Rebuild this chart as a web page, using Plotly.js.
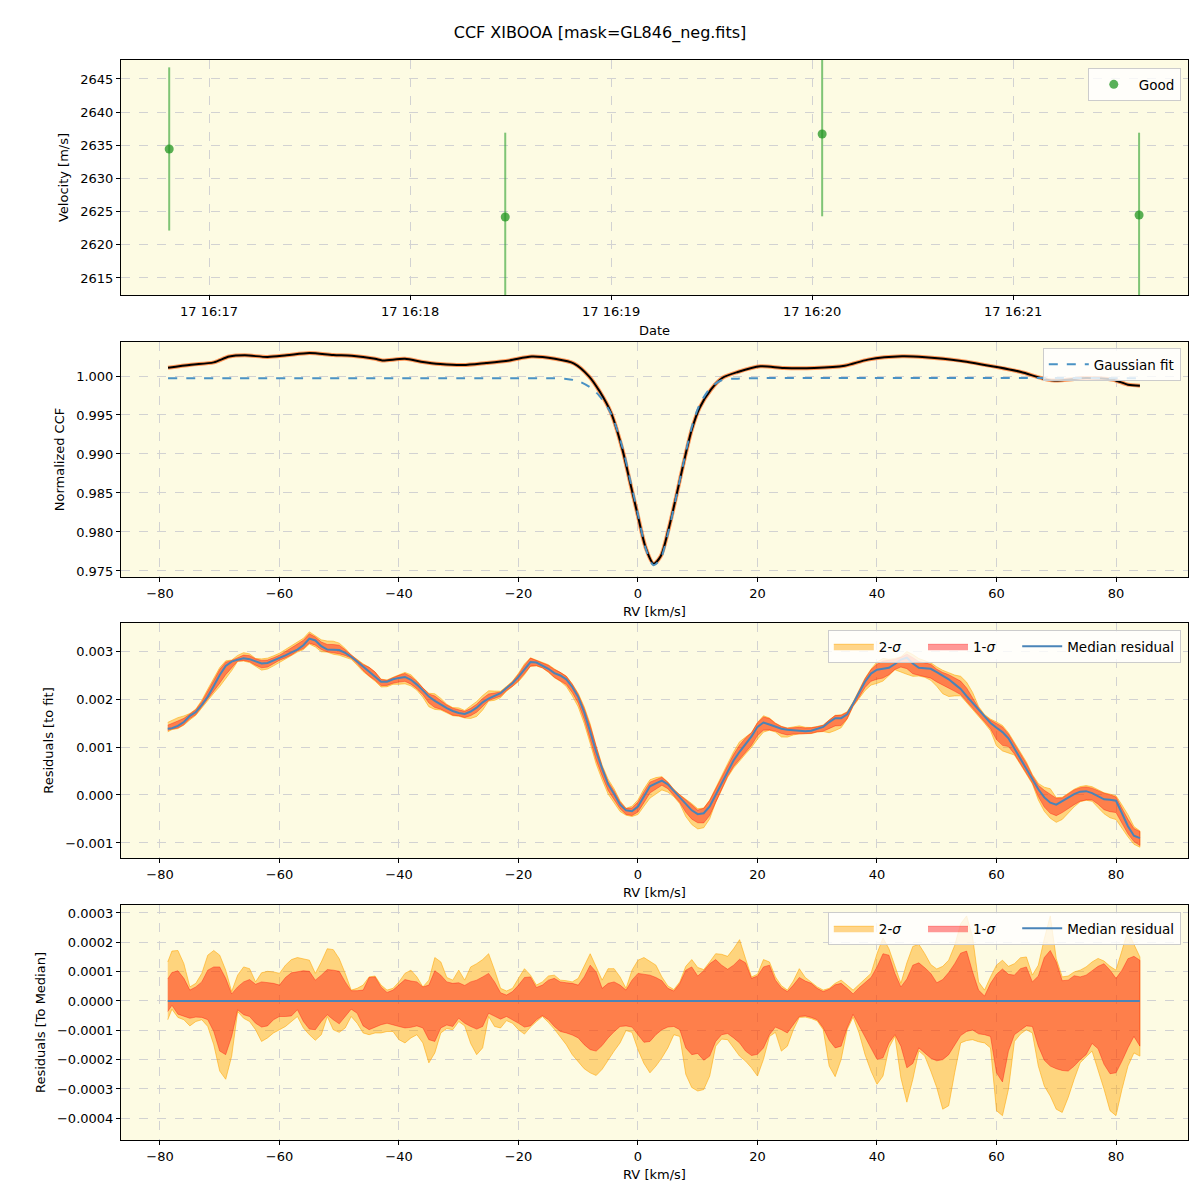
<!DOCTYPE html>
<html>
<head>
<meta charset="utf-8">
<script src="https://cdn.plot.ly/plotly-3.0.1.min.js"></script>
<style>
  body { margin: 0; background: #ffffff; }
  #myDiv { width: 1200px; height: 1200px; }
</style>
</head>
<body>
<div id="myDiv"></div>
<script>
// ---- panel 1 : velocity time series ----
var obsTimes = ['2024-06-17 16:16:48.1', '2024-06-17 16:18:28.4', '2024-06-17 16:20:03.0', '2024-06-17 16:21:37.6'];
var velocity = [2634.45, 2624.2, 2636.7, 2624.5];
var velocityErr = [12.3, 12.7, 12.4, 12.4];

// ---- panel 2 : normalised CCF and gaussian fit ----
var ccfRV = [-78.65, -74.8, -71, -68.4, -65.8, -62, -58.8, -55, -51, -47.9, -44, -42.8, -39, -36.3, -33.1, -29.3, -25.4, -21.5, -17.8, -13.9, -10.7, -8.2, -6.4, -4.5, -2.6, -1.3, 0, 1.3, 2.6, 3.8, 5.1, 6.4, 7.7, 9.0, 10.3, 12.2, 14.1, 16.7, 20.5, 24.4, 29.5, 34.6, 38.5, 44.2, 48.1, 53.8, 60.3, 64.1, 69.2, 75, 79.5, 82, 84];
var ccf = [1.00107, 1.00145, 1.00175, 1.0025, 1.00265, 1.00244, 1.00265, 1.00295, 1.0027, 1.0026, 1.0022, 1.002, 1.0022, 1.00184, 1.00154, 1.0014, 1.00167, 1.002, 1.0025, 1.0022, 1.0016, 0.99996, 0.9980, 0.99526, 0.99056, 0.98628, 0.98201, 0.97795, 0.97594, 0.97688, 0.9803, 0.98457, 0.98906, 0.99312, 0.9959, 0.99825, 0.99974, 1.00051, 1.00124, 1.00103, 1.00103, 1.00132, 1.0021, 1.00252, 1.0024, 1.00197, 1.00111, 1.00051, 0.99944, 0.99974, 0.99953, 0.99889, 0.99876];
var fitRV = [-78.65, -20, -14, -12, -10, -8, -6.4, -4.5, -2.6, -1.3, 0, 1.3, 2.6, 3.8, 5.1, 6.4, 7.7, 9, 10.3, 12.2, 14.1, 16.7, 20, 84];
var gaussFit = [0.99972, 0.99972, 0.9997, 0.99962, 0.99935, 0.99855, 0.9974, 0.99515, 0.99083, 0.98664, 0.98225, 0.97787, 0.97574, 0.9766, 0.98008, 0.98453, 0.98916, 0.99344, 0.99631, 0.99855, 0.99949, 0.99966, 0.99972, 0.99972];

// ---- panels 3 and 4 : residuals on a common RV grid ----
var rv = [-78.7,-78,-77,-76,-75,-74,-73,-72,-71,-70,
  -69,-68,-67,-66,-65,-64,-63,-62,-61,-60,
  -59,-58,-57,-56,-55,-54,-53,-52,-51,-50,
  -49,-48,-47,-46,-45,-44,-43,-42,-41,-40,
  -39,-38,-37,-36,-35,-34,-33,-32,-31,-30,
  -29,-28,-27,-26,-25,-24,-23,-22,-21,-20,
  -19,-18,-17,-16,-15,-14,-13,-12,-11,-10,
  -9,-8,-7,-6,-5,-4,-3,-2,-1,0,
  1,2,3,4,5,6,7,8,9,10,
  11,12,13,14,15,16,17,18,19,20,
  21,22,23,24,25,26,27,28,29,30,
  31,32,33,34,35,36,37,38,39,40,
  41,42,43,44,45,46,47,48,49,50,
  51,52,53,54,55,56,57,58,59,60,
  61,62,63,64,65,66,67,68,69,70,
  71,72,73,74,75,76,77,78,79,80,
  81,82,83,84];

// median residual to the gaussian fit
var medianResid = [0.00138,0.00139,0.00144,0.00152,0.00165,0.00173,0.00188,0.00205,0.00227,0.00250,
  0.00269,0.00278,0.00282,0.00285,0.00283,0.00278,0.00274,0.00275,0.00280,0.00286,
  0.00291,0.00297,0.00303,0.00312,0.00326,0.00322,0.00310,0.00303,0.00303,0.00302,
  0.00296,0.00288,0.00278,0.00268,0.00258,0.00248,0.00236,0.00236,0.00241,0.00244,
  0.00246,0.00240,0.00230,0.00218,0.00205,0.00196,0.00188,0.00181,0.00175,0.00171,
  0.00169,0.00174,0.00182,0.00193,0.00201,0.00206,0.00212,0.00223,0.00233,0.00246,
  0.00262,0.00277,0.00276,0.00270,0.00263,0.00254,0.00249,0.00241,0.00225,0.00204,
  0.00172,0.00132,0.00090,0.00055,0.00022,0.00002,-0.00020,-0.00032,-0.00034,-0.00024,
  -0.00002,0.00018,0.00024,0.00030,0.00022,0.00008,-0.00006,-0.00020,-0.00032,-0.00040,
  -0.00038,-0.00024,0.00000,0.00024,0.00050,0.00072,0.00090,0.00106,0.00122,0.00142,
  0.00151,0.00147,0.00142,0.00138,0.00136,0.00135,0.00133,0.00133,0.00134,0.00138,
  0.00142,0.00152,0.00160,0.00160,0.00168,0.00190,0.00212,0.00236,0.00253,0.00261,
  0.00263,0.00265,0.00273,0.00282,0.00286,0.00274,0.00265,0.00264,0.00263,0.00256,
  0.00248,0.00241,0.00231,0.00221,0.00206,0.00192,0.00178,0.00164,0.00150,0.00140,
  0.00131,0.00118,0.00097,0.00075,0.00054,0.00034,0.00012,-0.00005,-0.00016,-0.00020,
  -0.00013,-0.00005,0.00002,0.00007,0.00008,0.00004,-0.00003,-0.00009,-0.00010,-0.00012,
  -0.00038,-0.00065,-0.00085,-0.00090];

// band edges relative to the median
var upper2 = [1.33e-4,1.70e-4,1.72e-4,1.27e-4,0.48e-4,0.60e-4,0.94e-4,1.56e-4,1.72e-4,1.56e-4,
  1.05e-4,0.32e-4,0.88e-4,1.16e-4,1.10e-4,0.65e-4,0.96e-4,1.01e-4,0.99e-4,0.94e-4,
  1.22e-4,1.41e-4,1.48e-4,1.44e-4,1.39e-4,0.94e-4,1.33e-4,1.78e-4,1.75e-4,1.44e-4,
  0.94e-4,0.37e-4,0.43e-4,0.54e-4,0.82e-4,0.85e-4,0.54e-4,0.37e-4,0.43e-4,0.65e-4,
  0.94e-4,1.05e-4,0.82e-4,0.48e-4,0.71e-4,1.48e-4,1.33e-4,0.80e-4,0.71e-4,1.05e-4,
  0.71e-4,1.16e-4,1.27e-4,1.41e-4,1.61e-4,1.05e-4,0.43e-4,0.34e-4,0.43e-4,0.77e-4,
  1.10e-4,0.88e-4,0.54e-4,0.65e-4,0.85e-4,0.88e-4,0.71e-4,0.69e-4,0.65e-4,0.77e-4,
  1.18e-4,1.61e-4,1.16e-4,0.71e-4,1.10e-4,1.10e-4,0.82e-4,0.43e-4,1.05e-4,1.39e-4,
  1.48e-4,1.36e-4,1.22e-4,0.82e-4,0.51e-4,0.39e-4,0.65e-4,1.18e-4,1.41e-4,1.14e-4,
  1.07e-4,1.33e-4,1.61e-4,1.59e-4,1.52e-4,1.78e-4,2.09e-4,1.44e-4,0.82e-4,0.91e-4,
  1.41e-4,1.33e-4,0.82e-4,0.52e-4,0.37e-4,0.68e-4,1.10e-4,0.80e-4,0.65e-4,0.48e-4,
  0.37e-4,0.43e-4,0.60e-4,0.71e-4,0.54e-4,0.37e-4,0.56e-4,0.74e-4,0.94e-4,1.61e-4,
  2.15e-4,1.78e-4,1.16e-4,0.60e-4,1.30e-4,1.86e-4,1.93e-4,1.61e-4,1.24e-4,1.09e-4,
  1.18e-4,1.39e-4,1.89e-4,2.63e-4,2.90e-4,2.18e-4,0.65e-4,0.37e-4,0.82e-4,1.22e-4,
  1.39e-4,1.18e-4,1.27e-4,1.47e-4,1.50e-4,0.88e-4,1.22e-4,2.12e-4,2.90e-4,1.44e-4,
  0.82e-4,0.85e-4,0.99e-4,1.05e-4,1.16e-4,1.33e-4,1.45e-4,1.36e-4,1.18e-4,1.05e-4,
  1.72e-4,2.40e-4,1.93e-4,1.50e-4];

var upper1 = [0.75e-4,0.97e-4,1.03e-4,0.77e-4,0.37e-4,0.48e-4,0.65e-4,1.05e-4,1.16e-4,1.16e-4,
  0.77e-4,0.24e-4,0.48e-4,0.65e-4,0.73e-4,0.57e-4,0.65e-4,0.62e-4,0.60e-4,0.54e-4,
  0.80e-4,0.96e-4,0.99e-4,1.03e-4,1.01e-4,0.71e-4,0.88e-4,1.07e-4,1.05e-4,1.01e-4,
  0.65e-4,0.35e-4,0.35e-4,0.37e-4,0.80e-4,0.82e-4,0.48e-4,0.29e-4,0.37e-4,0.54e-4,
  0.73e-4,0.68e-4,0.65e-4,0.48e-4,0.54e-4,1.03e-4,0.88e-4,0.65e-4,0.60e-4,0.62e-4,
  0.53e-4,0.65e-4,0.71e-4,0.82e-4,0.94e-4,0.65e-4,0.28e-4,0.20e-4,0.32e-4,0.54e-4,
  0.80e-4,0.82e-4,0.46e-4,0.54e-4,0.71e-4,0.77e-4,0.65e-4,0.62e-4,0.60e-4,0.54e-4,
  0.82e-4,1.22e-4,0.99e-4,0.43e-4,0.60e-4,0.65e-4,0.54e-4,0.37e-4,0.71e-4,0.94e-4,
  0.90e-4,0.88e-4,0.80e-4,0.69e-4,0.43e-4,0.34e-4,0.60e-4,1.05e-4,1.16e-4,0.85e-4,
  1.03e-4,1.27e-4,1.41e-4,1.22e-4,1.08e-4,1.22e-4,1.42e-4,1.30e-4,0.77e-4,0.85e-4,
  1.16e-4,1.22e-4,0.71e-4,0.45e-4,0.32e-4,0.54e-4,0.80e-4,0.68e-4,0.60e-4,0.43e-4,
  0.32e-4,0.40e-4,0.55e-4,0.60e-4,0.43e-4,0.24e-4,0.45e-4,0.62e-4,0.80e-4,1.16e-4,
  1.61e-4,1.56e-4,0.94e-4,0.48e-4,0.75e-4,1.22e-4,1.30e-4,1.13e-4,0.94e-4,0.62e-4,
  0.73e-4,0.97e-4,1.27e-4,1.63e-4,1.70e-4,0.99e-4,0.37e-4,0.17e-4,0.60e-4,0.91e-4,
  1.09e-4,0.91e-4,0.88e-4,1.10e-4,1.16e-4,0.65e-4,0.85e-4,1.48e-4,1.72e-4,1.33e-4,
  0.69e-4,0.71e-4,0.86e-4,0.82e-4,0.88e-4,1.03e-4,1.18e-4,1.27e-4,1.05e-4,0.77e-4,
  1.05e-4,1.44e-4,1.52e-4,1.39e-4];

var lower1 = [-0.36e-4,-0.15e-4,-0.45e-4,-0.53e-4,-0.59e-4,-0.55e-4,-0.56e-4,-0.64e-4,-1.04e-4,-1.71e-4,
  -1.83e-4,-1.21e-4,-0.30e-4,-0.47e-4,-0.53e-4,-0.76e-4,-0.89e-4,-0.85e-4,-0.64e-4,-0.53e-4,
  -0.53e-4,-0.51e-4,-0.30e-4,-0.70e-4,-0.96e-4,-0.98e-4,-0.70e-4,-0.47e-4,-0.64e-4,-0.78e-4,
  -0.53e-4,-0.28e-4,-0.42e-4,-0.85e-4,-0.98e-4,-0.89e-4,-0.81e-4,-0.76e-4,-0.81e-4,-0.87e-4,
  -0.92e-4,-0.90e-4,-0.85e-4,-0.92e-4,-1.32e-4,-1.38e-4,-0.92e-4,-0.82e-4,-0.87e-4,-0.59e-4,
  -0.76e-4,-0.87e-4,-0.96e-4,-0.87e-4,-0.42e-4,-0.51e-4,-0.62e-4,-0.53e-4,-0.64e-4,-0.76e-4,
  -0.89e-4,-0.85e-4,-0.64e-4,-0.50e-4,-0.64e-4,-0.87e-4,-1.04e-4,-1.09e-4,-1.16e-4,-1.26e-4,
  -1.49e-4,-1.66e-4,-1.71e-4,-1.52e-4,-1.26e-4,-1.05e-4,-0.87e-4,-0.85e-4,-0.89e-4,-1.15e-4,
  -1.41e-4,-1.38e-4,-1.15e-4,-0.98e-4,-0.89e-4,-0.87e-4,-0.98e-4,-1.60e-4,-1.83e-4,-1.79e-4,
  -2.02e-4,-1.88e-4,-1.38e-4,-1.15e-4,-1.11e-4,-1.26e-4,-1.43e-4,-1.71e-4,-1.86e-4,-1.82e-4,
  -1.60e-4,-1.15e-4,-0.89e-4,-0.98e-4,-1.09e-4,-0.81e-4,-0.53e-4,-0.51e-4,-0.56e-4,-0.64e-4,
  -0.92e-4,-1.34e-4,-1.60e-4,-1.54e-4,-0.92e-4,-0.46e-4,-0.81e-4,-1.21e-4,-1.60e-4,-1.99e-4,
  -1.94e-4,-1.43e-4,-1.15e-4,-1.54e-4,-2.28e-4,-2.13e-4,-1.60e-4,-1.79e-4,-1.95e-4,-2.04e-4,
  -2.00e-4,-1.83e-4,-1.49e-4,-1.18e-4,-1.04e-4,-0.99e-4,-1.12e-4,-1.15e-4,-1.21e-4,-2.45e-4,
  -2.76e-4,-1.71e-4,-1.15e-4,-1.01e-4,-0.85e-4,-0.87e-4,-1.54e-4,-2.02e-4,-2.22e-4,-2.31e-4,
  -2.37e-4,-2.39e-4,-2.22e-4,-2.00e-4,-1.83e-4,-1.45e-4,-1.63e-4,-2.16e-4,-2.48e-4,-2.45e-4,
  -2.05e-4,-1.60e-4,-1.21e-4,-1.54e-4];

var lower2 = [-0.64e-4,-0.28e-4,-0.56e-4,-0.64e-4,-0.85e-4,-0.70e-4,-0.64e-4,-0.87e-4,-1.49e-4,-2.39e-4,
  -2.67e-4,-1.88e-4,-0.36e-4,-0.59e-4,-0.70e-4,-0.98e-4,-1.38e-4,-1.26e-4,-1.09e-4,-0.98e-4,
  -0.87e-4,-0.70e-4,-0.53e-4,-0.92e-4,-1.15e-4,-1.34e-4,-1.15e-4,-0.53e-4,-0.98e-4,-1.07e-4,
  -0.92e-4,-0.53e-4,-0.76e-4,-1.09e-4,-1.15e-4,-1.09e-4,-1.09e-4,-1.04e-4,-1.04e-4,-1.32e-4,
  -1.43e-4,-1.26e-4,-1.15e-4,-1.43e-4,-2.11e-4,-1.77e-4,-1.09e-4,-0.94e-4,-0.98e-4,-0.70e-4,
  -0.85e-4,-1.45e-4,-1.83e-4,-1.60e-4,-0.53e-4,-0.87e-4,-0.92e-4,-0.67e-4,-0.76e-4,-0.98e-4,
  -1.13e-4,-0.89e-4,-0.70e-4,-0.53e-4,-0.73e-4,-0.96e-4,-1.21e-4,-1.49e-4,-1.83e-4,-2.05e-4,
  -2.31e-4,-2.45e-4,-2.54e-4,-2.33e-4,-2.00e-4,-1.71e-4,-1.43e-4,-1.01e-4,-1.07e-4,-1.66e-4,
  -2.13e-4,-2.45e-4,-2.22e-4,-1.94e-4,-1.60e-4,-1.15e-4,-1.21e-4,-2.50e-4,-2.95e-4,-3.07e-4,
  -3.02e-4,-2.56e-4,-1.54e-4,-1.30e-4,-1.32e-4,-1.60e-4,-1.88e-4,-2.05e-4,-2.28e-4,-2.56e-4,
  -1.99e-4,-1.21e-4,-1.07e-4,-1.71e-4,-1.54e-4,-0.98e-4,-0.56e-4,-0.55e-4,-0.60e-4,-0.68e-4,
  -0.98e-4,-2.22e-4,-2.58e-4,-1.99e-4,-0.98e-4,-0.55e-4,-1.09e-4,-1.83e-4,-2.39e-4,-2.84e-4,
  -2.56e-4,-1.60e-4,-1.20e-4,-2.62e-4,-3.45e-4,-2.67e-4,-1.70e-4,-1.88e-4,-2.39e-4,-2.95e-4,
  -3.69e-4,-3.57e-4,-2.45e-4,-1.43e-4,-1.35e-4,-1.32e-4,-1.39e-4,-1.43e-4,-1.60e-4,-3.74e-4,
  -3.91e-4,-3.01e-4,-1.38e-4,-1.13e-4,-0.98e-4,-1.09e-4,-2.22e-4,-2.90e-4,-3.24e-4,-3.69e-4,
  -3.80e-4,-3.29e-4,-2.67e-4,-2.11e-4,-1.90e-4,-1.71e-4,-2.33e-4,-3.01e-4,-3.74e-4,-3.91e-4,
  -3.01e-4,-2.22e-4,-1.77e-4,-1.88e-4];

// ---- styling ----
var FONT = 'DejaVu Sans, Liberation Sans, sans-serif';
var COL_2SIG = 'rgba(255,165,0,0.45)';
var COL_1SIG = 'rgba(255,0,0,0.4)';
var COL_MED = '#4a84b8';
var PAD = '\u00a0\u00a0\u00a0\u00a0';  // extra gap between horizontal legend entries

function shifted(base, off) {
  return base.map(function (b, i) { return b + off[i]; });
}
function bandTrace(base, hi, lo, name, fillcolor, edge, ax, leg) {
  var up = shifted(base, hi);
  var dn = shifted(base, lo).reverse();
  return {
    x: rv.concat(rv.slice().reverse()),
    y: up.concat(dn),
    type: 'scatter', mode: 'lines', fill: 'toself',
    fillcolor: fillcolor,
    line: {color: edge, width: 1},
    name: name, legend: leg,
    xaxis: 'x' + ax, yaxis: 'y' + ax,
    hoverinfo: 'skip'
  };
}

var zeroLine = rv.map(function () { return 0; });

var traces = [
  {
    x: obsTimes, y: velocity, type: 'scatter', mode: 'markers',
    name: 'Good', legend: 'legend',
    marker: {color: 'rgba(34,150,34,0.75)', size: 9},
    error_y: {type: 'data', array: velocityErr, color: 'rgba(44,160,44,0.6)', thickness: 2, width: 0},
    xaxis: 'x', yaxis: 'y'
  },
  {
    x: ccfRV, y: ccf, type: 'scatter', mode: 'lines', showlegend: false,
    line: {color: 'rgba(255,110,30,0.7)', width: 4, shape: 'spline', smoothing: 0.8},
    xaxis: 'x2', yaxis: 'y2'
  },
  {
    x: ccfRV, y: ccf, type: 'scatter', mode: 'lines', showlegend: false,
    line: {color: 'black', width: 2, shape: 'spline', smoothing: 0.8},
    xaxis: 'x2', yaxis: 'y2'
  },
  {
    x: fitRV, y: gaussFit, type: 'scatter', mode: 'lines',
    name: 'Gaussian fit', legend: 'legend2',
    line: {color: '#4a92c4', width: 2, dash: 'dash', shape: 'spline', smoothing: 0.8},
    xaxis: 'x2', yaxis: 'y2'
  },
  bandTrace(medianResid, upper2, lower2, '2-<i>σ</i>' + PAD, COL_2SIG, 'rgba(255,165,0,0.55)', '3', 'legend3'),
  bandTrace(medianResid, upper1, lower1, '1-<i>σ</i>' + PAD, COL_1SIG, 'rgba(255,0,0,0.35)', '3', 'legend3'),
  {
    x: rv, y: medianResid, type: 'scatter', mode: 'lines',
    name: 'Median residual', legend: 'legend3',
    line: {color: COL_MED, width: 2},
    xaxis: 'x3', yaxis: 'y3'
  },
  bandTrace(zeroLine, upper2, lower2, '2-<i>σ</i>' + PAD, COL_2SIG, 'rgba(255,165,0,0.55)', '4', 'legend4'),
  bandTrace(zeroLine, upper1, lower1, '1-<i>σ</i>' + PAD, COL_1SIG, 'rgba(255,0,0,0.35)', '4', 'legend4'),
  {
    x: rv, y: zeroLine, type: 'scatter', mode: 'lines',
    name: 'Median residual', legend: 'legend4',
    line: {color: COL_MED, width: 2},
    xaxis: 'x4', yaxis: 'y4'
  }
];

function axis(extra) {
  var base = {
    showline: true, mirror: true, linecolor: 'black', linewidth: 1,
    ticks: 'outside', ticklen: 4, tickcolor: 'black', tickwidth: 1,
    showgrid: true, gridcolor: '#d2d2d2', griddash: 'dash', gridwidth: 1,
    zeroline: false, automargin: false,
    tickfont: {family: FONT, size: 13, color: 'black'}
  };
  for (var k in extra) base[k] = extra[k];
  return base;
}
function ttl(text, standoff) {
  return {text: text, font: {family: FONT, size: 13, color: 'black'}, standoff: standoff};
}
function legendBox(y, horizontal) {
  var l = {
    x: 0.984, xanchor: 'right', y: y, yanchor: 'top',
    bgcolor: 'rgba(255,255,255,0.8)', bordercolor: '#cccccc', borderwidth: 1,
    itemwidth: 40,
    font: {family: FONT, size: 13.5, color: 'black'}
  };
  if (horizontal) l.orientation = 'h';
  return l;
}

var xDom = [0.1008, 0.99];
var rvRange = [-86.53, 92.05];

var layout = {
  width: 1200, height: 1200,
  margin: {l: 0, r: 0, t: 0, b: 0},
  paper_bgcolor: 'white',
  plot_bgcolor: '#fdfbe3',
  font: {family: FONT, size: 13, color: 'black'},
  title: {text: 'CCF XIBOOA [mask=GL846_neg.fits]', x: 0.5, xanchor: 'center', y: 0.9733, yanchor: 'middle',
          font: {family: FONT, size: 16, color: 'black'}},
  xaxis: axis({domain: xDom, anchor: 'y', type: 'date',
               range: ['2024-06-17 16:16:33.7', '2024-06-17 16:21:52.2'],
               tick0: '2024-06-17 16:17:00', dtick: 60000, tickformat: '%d %H:%M',
               title: ttl('Date', 8)}),
  yaxis: axis({domain: [0.7542, 0.95], anchor: 'x', range: [2612.44, 2647.86], tick0: 2615, dtick: 5,
               title: ttl('Velocity [m/s]', 8)}),
  xaxis2: axis({domain: xDom, anchor: 'y2', range: rvRange, tick0: 0, dtick: 20, title: ttl('RV [km/s]', 7)}),
  yaxis2: axis({domain: [0.5192, 0.715], anchor: 'x2', range: [0.97423, 1.00436], tick0: 1, dtick: 0.005,
                tickformat: '.3f', title: ttl('Normalized CCF', 8)}),
  xaxis3: axis({domain: xDom, anchor: 'y3', range: rvRange, tick0: 0, dtick: 20, title: ttl('RV [km/s]', 7)}),
  yaxis3: axis({domain: [0.285, 0.4808], anchor: 'x3', range: [-0.001313, 0.003583], tick0: 0, dtick: 0.001,
                tickformat: '.3f', title: ttl('Residuals [to fit]', 8)}),
  xaxis4: axis({domain: xDom, anchor: 'y4', range: rvRange, tick0: 0, dtick: 20, title: ttl('RV [km/s]', 7)}),
  yaxis4: axis({domain: [0.05, 0.2458], anchor: 'x4', range: [-0.000474, 0.000327], tick0: 0, dtick: 0.0001,
                tickformat: '.4f', title: ttl('Residuals [To Median]', 8)}),
  legend: legendBox(0.9433, false),
  legend2: legendBox(0.71, false),
  legend3: legendBox(0.475, true),
  legend4: legendBox(0.24, true)
};

Plotly.newPlot('myDiv', traces, layout, {staticPlot: true});
</script>
</body>
</html>
